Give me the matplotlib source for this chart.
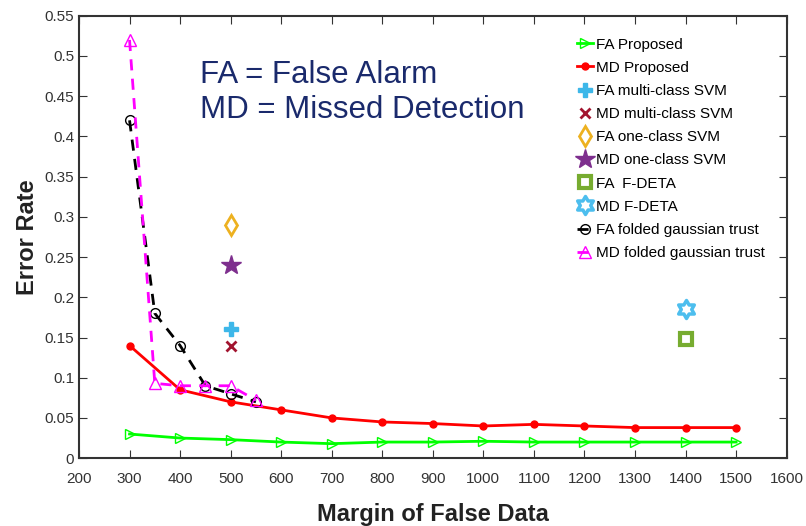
import numpy as np
import matplotlib
matplotlib.use("Agg")
import matplotlib.pyplot as plt
from matplotlib.path import Path

margin = [300, 400, 500, 600, 700, 800, 900, 1000, 1100, 1200, 1300, 1400, 1500]
fa_proposed = [0.030, 0.025, 0.023, 0.020, 0.018, 0.020, 0.020, 0.021, 0.020, 0.020, 0.020, 0.020, 0.020]
md_proposed = [0.140, 0.085, 0.070, 0.060, 0.050, 0.045, 0.043, 0.040, 0.042, 0.040, 0.038, 0.038, 0.038]

svm_x = [500]
fa_multi = [0.16]
md_multi = [0.14]
fa_one = [0.29]
md_one = [0.24]

fdeta_x = [1400]
fa_fdeta = [0.148]
md_fdeta = [0.185]

fg_x = [300, 350, 400, 450, 500, 550]
fa_fg = [0.42, 0.18, 0.14, 0.09, 0.08, 0.07]
md_fg = [0.52, 0.093, 0.09, 0.09, 0.09, 0.072]

xticks = list(range(200, 1700, 100))
yticks = [0, 0.05, 0.1, 0.15, 0.2, 0.25, 0.3, 0.35, 0.4, 0.45, 0.5, 0.55]
ytick_labels = ['0', '0.05', '0.1', '0.15', '0.2', '0.25', '0.3', '0.35', '0.4', '0.45', '0.5', '0.55']

# hexagram marker
ang = np.linspace(np.pi / 2, np.pi / 2 + 2 * np.pi, 13)[:-1]
rad = np.where(np.arange(12) % 2 == 0, 1.0, 1.0 / np.sqrt(3))
verts = np.column_stack([rad * np.cos(ang), rad * np.sin(ang)])
verts = np.vstack([verts, verts[0]])
codes = [Path.MOVETO] + [Path.LINETO] * 11 + [Path.CLOSEPOLY]
hexagram = Path(verts, codes)

plt.rcParams['font.family'] = ['Liberation Sans', 'DejaVu Sans']

fig = plt.figure(figsize=(8.06, 5.26), dpi=100)
ax = fig.add_axes([0.098, 0.129, 0.878, 0.841])

ax.plot(margin, fa_proposed, color='#00ff00', marker='>', mfc='none', mec='#00ff00',
        ms=7, lw=2, label='FA Proposed')
ax.plot(margin, md_proposed, color='#ff0000', marker='o', ms=5, lw=2, label='MD Proposed')
ax.plot(svm_x, fa_multi, ls='none', marker='P', color='#3db7e9', ms=10, label='FA multi-class SVM')
ax.plot(svm_x, md_multi, ls='none', marker='x', color='#a2142f', ms=7, mew=2, label='MD multi-class SVM')
ax.plot(svm_x, fa_one, ls='none', marker='d', mfc='none', mec='#edb120', ms=10, mew=2, label='FA one-class SVM')
ax.plot(svm_x, md_one, ls='none', marker='*', color='#7e2f8e', ms=15, label='MD one-class SVM')
ax.plot(fdeta_x, fa_fdeta, ls='none', marker='s', mfc='white', mec='#77ac30', ms=8, mew=3, label='FA  F-DETA')
ax.plot(fdeta_x, md_fdeta, ls='none', marker=hexagram, mfc='white', mec='#4dbeee', ms=13, mew=2.5, label='MD F-DETA')
ax.plot(fg_x, fa_fg, color='black', ls='--', marker='o', mfc='none', ms=7, lw=2, dashes=(4, 3),
        label='FA folded gaussian trust')
ax.plot(fg_x, md_fg, color='#ff00ff', ls='--', marker='^', mfc='none', ms=8, lw=2, dashes=(4, 3),
        label='MD folded gaussian trust')

ax.set_xlim(200, 1600)
ax.set_ylim(0, 0.55)
ax.set_xticks(xticks)
ax.set_yticks(yticks)
ax.set_xticklabels([str(v) for v in xticks])
ax.set_yticklabels(ytick_labels)
ax.tick_params(direction='in', top=True, right=True, length=6, labelsize=11, colors='#333333')
ax.tick_params(axis='x', pad=10)
for s in ax.spines.values():
    s.set_linewidth(1.5)
    s.set_color('#333333')

ax.set_xlabel('Margin of False Data', fontsize=17, fontweight='bold', color='#222222', labelpad=12)
ax.set_ylabel('Error Rate', fontsize=17, fontweight='bold', color='#222222')
ax.yaxis.set_label_coords(-0.057, 0.5)

ax.text(0.171, 0.866, 'FA = False Alarm', transform=ax.transAxes, fontsize=22.5,
        color='#1a2a6c', va='center')
ax.text(0.171, 0.787, 'MD = Missed Detection', transform=ax.transAxes, fontsize=22.5,
        color='#1a2a6c', va='center')

leg = ax.legend(loc='upper right', bbox_to_anchor=(0.985, 0.975), frameon=False, fontsize=11,
                handlelength=1.1, handletextpad=0.2, labelspacing=0.6, borderaxespad=0.3)

fig.savefig('out.png', dpi=100)
